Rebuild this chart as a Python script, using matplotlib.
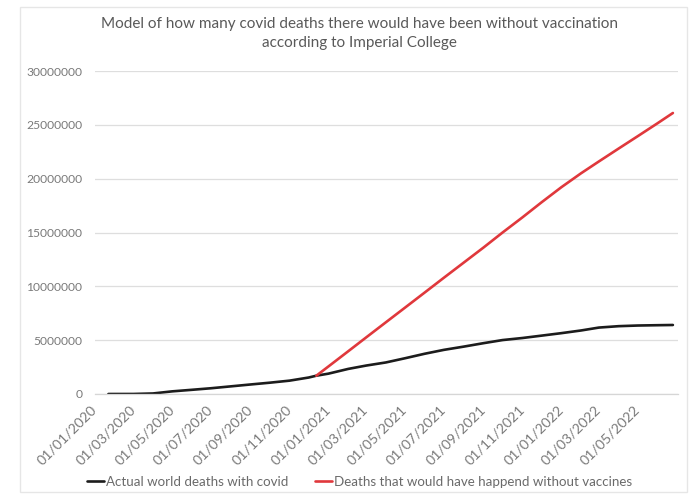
import matplotlib
matplotlib.use("Agg")
import matplotlib.pyplot as plt
import matplotlib.dates as mdates
from matplotlib.patches import Rectangle
import pandas as pd

# ---- data ----
actual_dates = ["2020-01-22", "2020-03-01", "2020-04-01", "2020-05-01", "2020-06-01",
                "2020-07-01", "2020-08-01", "2020-09-01", "2020-10-01", "2020-11-01",
                "2020-12-01", "2020-12-13", "2021-01-01", "2021-02-01", "2021-03-01",
                "2021-04-01", "2021-05-01", "2021-06-01", "2021-07-01", "2021-08-01",
                "2021-09-01", "2021-10-01", "2021-11-01", "2021-12-01", "2022-01-01",
                "2022-02-01", "2022-03-01", "2022-04-01", "2022-05-01", "2022-06-01",
                "2022-06-25"]
actual_deaths = [0, 3000, 50000, 245000, 390000,
                 535000, 710000, 885000, 1050000, 1240000,
                 1530000, 1700000, 1890000, 2330000, 2640000,
                 2930000, 3320000, 3740000, 4100000, 4400000,
                 4720000, 5010000, 5200000, 5420000, 5650000,
                 5900000, 6170000, 6300000, 6360000, 6390000,
                 6410000]

novax_dates = ["2020-12-13", "2021-01-01", "2021-02-01", "2021-03-01", "2021-04-01",
               "2021-05-01", "2021-06-01", "2021-07-01", "2021-08-01", "2021-09-01",
               "2021-10-01", "2021-11-01", "2021-12-01", "2022-01-01", "2022-02-01",
               "2022-03-01", "2022-04-01", "2022-05-01", "2022-06-01", "2022-06-25"]
novax_deaths = [1700000, 2560000, 3970000, 5250000, 6660000,
                8020000, 9430000, 10800000, 12200000, 13600000,
                15000000, 16400000, 17800000, 19200000, 20500000,
                21600000, 22800000, 23950000, 25150000, 26100000]

tick_dates = ["2020-01-01", "2020-03-01", "2020-05-01", "2020-07-01", "2020-09-01",
              "2020-11-01", "2021-01-01", "2021-03-01", "2021-05-01", "2021-07-01",
              "2021-09-01", "2021-11-01", "2022-01-01", "2022-03-01", "2022-05-01"]
y_ticks = [0, 5000000, 10000000, 15000000, 20000000, 25000000, 30000000]

title = "Model of how many covid deaths there would have been without vaccination\naccording to Imperial College"
label_actual = "Actual world deaths with covid"
label_novax = "Deaths that would have happend without vaccines"

# ---- figure ----
plt.rcParams['font.family'] = ['Lato', 'DejaVu Sans']
fig = plt.figure(figsize=(6.89, 5.0), dpi=100)
fig.patch.set_facecolor("white")
fig.patches.append(Rectangle((20/689, 8/500), 667/689, 485/500, transform=fig.transFigure,
                             fill=False, edgecolor="#e6e6e6", linewidth=1.0))

ax = fig.add_axes([95/689, 1-394/500, (678-95)/689, (394-71)/500])

ax.plot(pd.to_datetime(actual_dates), actual_deaths, color="#1c1c1c", lw=1.9,
        label=label_actual, solid_capstyle="round")
ax.plot(pd.to_datetime(novax_dates), novax_deaths, color="#e0383c", lw=1.9,
        label=label_novax, solid_capstyle="round")

ax.set_ylim(0, 30000000)
ax.set_yticks(y_ticks)
ax.set_yticklabels([str(v) for v in y_ticks])
ax.set_xlim(pd.Timestamp("2020-01-01"), pd.Timestamp("2022-07-03"))
ax.set_xticks(pd.to_datetime(tick_dates))
ax.xaxis.set_major_formatter(mdates.DateFormatter("%d/%m/%Y"))

ax.grid(axis="y", color="#dedede", lw=0.9)
ax.set_axisbelow(True)
for s in ["top", "right", "left"]:
    ax.spines[s].set_visible(False)
ax.spines["bottom"].set_color("#d6d6d6")
ax.spines["bottom"].set_linewidth(0.9)
ax.tick_params(axis="both", length=0, colors="#7a7a7a")
ax.tick_params(axis="y", pad=9, labelsize=8.7)
ax.tick_params(axis="x", pad=10)
for lab in ax.get_xticklabels():
    lab.set_rotation(45)
    lab.set_ha("right")
    lab.set_va("center")
    lab.set_rotation_mode("anchor")
    lab.set_fontsize(10.2)

fig.text(0.522, 0.933, title, ha="center", va="center", fontsize=11,
         color="#595959", linespacing=1.5)

fig.legend(loc="center", bbox_to_anchor=(0.522, 0.036), ncol=2, frameon=False,
           fontsize=9.6, handlelength=1.3, handletextpad=0.15, columnspacing=2.0,
           labelcolor="#6a6a6a")

fig.savefig("out.png", dpi=100, facecolor="white")
